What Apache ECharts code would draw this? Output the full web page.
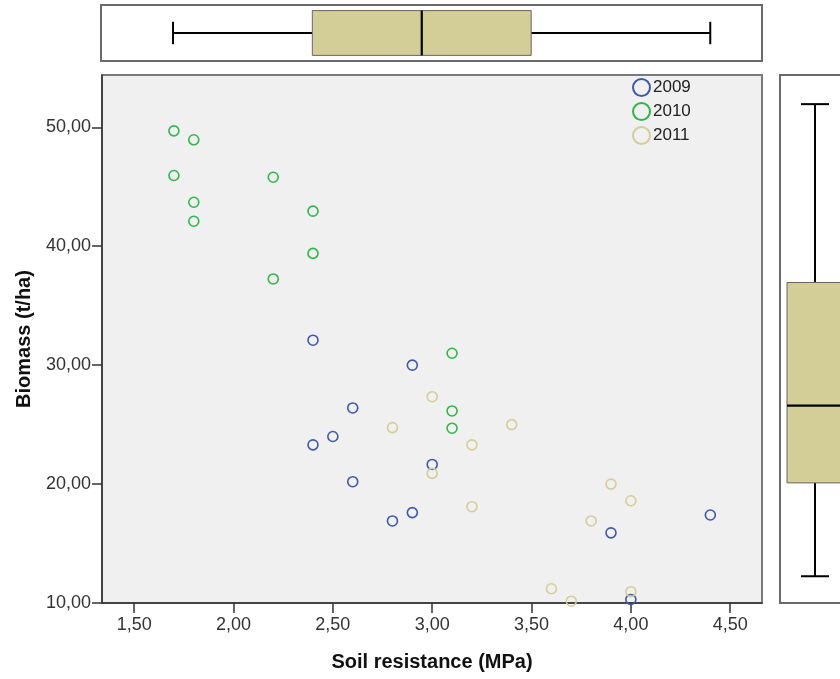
<!DOCTYPE html>
<html>
<head>
<meta charset="utf-8">
<script src="https://cdn.jsdelivr.net/npm/echarts@6/dist/echarts.min.js"></script>
<style>html,body{margin:0;padding:0;background:#fff}#c{width:840px;height:679px}</style>
</head>
<body>
<div id="c"></div>
<script>
// ---- data ----
const xTicks = [1.5, 2.0, 2.5, 3.0, 3.5, 4.0, 4.5];
const yTicks = [10, 20, 30, 40, 50];
const years = ['2009', '2010', '2011'];
const soil2009 = [2.4, 2.9, 2.6, 2.5, 2.4, 3.0, 2.6, 2.9, 2.8, 3.9, 4.4, 4.0];
const bio2009  = [32.1, 30.0, 26.4, 24.0, 23.3, 21.65, 20.2, 17.6, 16.9, 15.9, 17.4, 10.3];
const soil2010 = [1.7, 1.8, 1.7, 2.2, 1.8, 2.4, 1.8, 2.4, 2.2, 3.1, 3.1, 3.1];
const bio2010  = [49.7, 48.95, 45.95, 45.8, 43.7, 42.95, 42.1, 39.4, 37.25, 31.0, 26.15, 24.7];
const soil2011 = [3.0, 2.8, 3.4, 3.2, 3.0, 3.2, 3.9, 4.0, 3.8, 3.6, 3.7, 4.0];
const bio2011  = [27.35, 24.75, 25.0, 23.3, 20.9, 18.1, 20.0, 18.6, 16.9, 11.2, 10.15, 10.95];
// box stats: min, Q1, median, Q3, max
const soilBox = [1.7, 2.4, 2.95, 3.5, 4.4];
const bioBox  = [12.25, 20.1, 26.6, 36.95, 51.95];

const colors = ['#3E58AC', '#2EB848', '#D3CE97'];
const boxFill = '#D3CE97';
const FONT = '"Liberation Sans", Arial, sans-serif';
const fmt = v => Number(v).toFixed(2).replace('.', ',');
const zip = (a, b) => a.map((v, i) => [v, b[i]]);

const xMin = 1.338, xMax = 4.66, yMin = 10, yMax = 54.4;

function boxRender(horizontal) {
  return function (params, api) {
    const cat = api.value(0);
    const vals = [api.value(1), api.value(2), api.value(3), api.value(4), api.value(5)];
    const pt = v => horizontal ? api.coord([v, cat]) : api.coord([cat, v]);
    const band = horizontal ? api.size([0, 1])[1] : api.size([1, 0])[0];
    const half = band * 0.4, cap = band * 0.2;
    const p = vals.map(pt);
    const seg = (a, b) => ({type: 'line', shape: {x1: a[0], y1: a[1], x2: b[0], y2: b[1]}, style: {stroke: '#000', lineWidth: 2}});
    const capLine = (c) => horizontal
      ? {type: 'line', shape: {x1: c[0], y1: c[1] - cap, x2: c[0], y2: c[1] + cap}, style: {stroke: '#000', lineWidth: 2}}
      : {type: 'line', shape: {x1: c[0] - cap, y1: c[1], x2: c[0] + cap, y2: c[1]}, style: {stroke: '#000', lineWidth: 2}};
    let rect, med;
    if (horizontal) {
      rect = {x: p[1][0], y: p[1][1] - half, width: p[3][0] - p[1][0], height: half * 2};
      med = {x1: p[2][0], y1: p[2][1] - half, x2: p[2][0], y2: p[2][1] + half};
    } else {
      rect = {x: p[1][0] - half, y: p[3][1], width: half * 2, height: p[1][1] - p[3][1]};
      med = {x1: p[2][0] - half, y1: p[2][1], x2: p[2][0] + half, y2: p[2][1]};
    }
    return {type: 'group', children: [
      seg(p[0], p[1]), seg(p[3], p[4]), capLine(p[0]), capLine(p[4]),
      {type: 'rect', shape: rect, style: {fill: boxFill, stroke: '#666', lineWidth: 1}},
      {type: 'line', shape: med, style: {stroke: '#000', lineWidth: 2.2}}
    ]};
  };
}

const chart = echarts.init(document.getElementById('c'), null, {renderer: 'canvas'});
const scatterSeries = [[soil2009, bio2009], [soil2010, bio2010], [soil2011, bio2011]].map((d, i) => ({
  name: years[i], type: 'scatter', xAxisIndex: 0, yAxisIndex: 0,
  data: zip(d[0], d[1]), symbol: 'circle', symbolSize: 10,
  itemStyle: {color: 'rgba(0,0,0,0)', borderColor: colors[i], borderWidth: 1.6, opacity: 1},
  emphasis: {disabled: true}
}));

chart.setOption({
  animation: false,
  backgroundColor: '#fff',
  textStyle: {fontFamily: FONT},
  grid: [
    {left: 102, top: 75, width: 660, height: 528, show: true, backgroundColor: '#F0F0F0', borderColor: '#7a7a7a', borderWidth: 2, outerBoundsMode: 'none'},
    {left: 101, top: 5, width: 661, height: 56, show: true, backgroundColor: '#fff', borderColor: '#6a6a6a', borderWidth: 2, outerBoundsMode: 'none'},
    {left: 780, top: 75, width: 70, height: 528, show: true, backgroundColor: '#fff', borderColor: '#6a6a6a', borderWidth: 2, outerBoundsMode: 'none'}
  ],
  legend: {
    orient: 'vertical', left: 627, top: 73, itemWidth: 17, itemHeight: 17, itemGap: 5,
    data: years, textStyle: {fontFamily: FONT, fontSize: 17, color: '#222', padding: [0, 0, 0, -2]},
    selectedMode: false
  },
  xAxis: [
    {gridIndex: 0, type: 'value', min: xMin, max: xMax,
     name: 'Soil resistance (MPa)', nameLocation: 'middle', nameGap: 49,
     nameTextStyle: {fontFamily: FONT, fontSize: 20, fontWeight: 'bold', color: '#111'},
     axisLine: {show: true, onZero: false, lineStyle: {color: '#333', width: 1.5}},
     axisTick: {show: true, length: 10, customValues: xTicks, lineStyle: {color: '#333', width: 1.5}},
     axisLabel: {customValues: xTicks, formatter: fmt, margin: 13, fontFamily: FONT, fontSize: 18, color: '#333'},
     splitLine: {show: false}},
    {gridIndex: 1, type: 'value', min: xMin, max: xMax, show: false},
    {gridIndex: 2, type: 'category', data: ['Biomass'], show: false}
  ],
  yAxis: [
    {gridIndex: 0, type: 'value', min: yMin, max: yMax,
     name: 'Biomass (t/ha)', nameLocation: 'middle', nameGap: 68,
     nameTextStyle: {fontFamily: FONT, fontSize: 20, fontWeight: 'bold', color: '#111'},
     axisLine: {show: true, onZero: false, lineStyle: {color: '#333', width: 1.5}},
     axisTick: {show: true, length: 10, customValues: yTicks, lineStyle: {color: '#333', width: 1.5}},
     axisLabel: {customValues: yTicks, formatter: fmt, margin: 11, fontFamily: FONT, fontSize: 18, color: '#333'},
     splitLine: {show: false}},
    {gridIndex: 1, type: 'category', data: ['Soil'], show: false},
    {gridIndex: 2, type: 'value', min: yMin, max: yMax, show: false}
  ],
  series: scatterSeries.concat([
    {type: 'custom', xAxisIndex: 1, yAxisIndex: 1, renderItem: boxRender(true),
     data: [[0].concat(soilBox)], encode: {x: [1, 2, 3, 4, 5], y: 0}, silent: true},
    {type: 'custom', xAxisIndex: 2, yAxisIndex: 2, renderItem: boxRender(false),
     data: [[0].concat(bioBox)], encode: {x: 0, y: [1, 2, 3, 4, 5]}, silent: true}
  ])
});
</script>
</body>
</html>
